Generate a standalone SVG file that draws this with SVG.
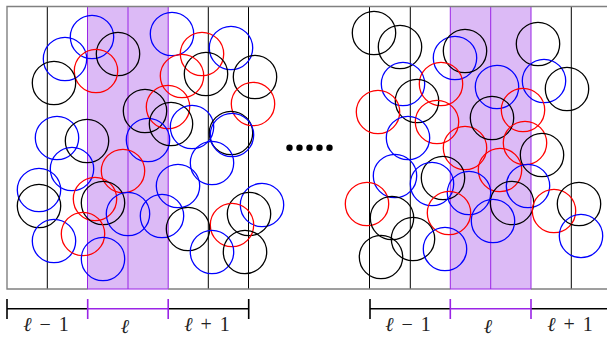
<svg xmlns="http://www.w3.org/2000/svg" width="607" height="337" viewBox="0 0 607 337">
<style>
.band{fill:#dcbaf6;stroke:#9a24e6;stroke-width:1}
.v{stroke:#000;stroke-width:1}
.vp{stroke:#9a24e6;stroke-width:1}
.frame{fill:none;stroke:#808080;stroke-width:1.4}
circle.k,circle.b,circle.r{fill:none;stroke-width:1.3}
.k{stroke:#000}
.b{stroke:#0000ff}
.r{stroke:#ff0000}
.br{stroke:#000;stroke-width:1.6;fill:none}
.bp{stroke:#9a24e6;stroke-width:1.6;fill:none}
.lab{font-family:"Liberation Serif","DejaVu Serif",serif;font-size:20px;fill:#222;text-anchor:middle;word-spacing:3px}
.dot{fill:#000}
</style>
<rect x="0" y="0" width="607" height="337" fill="#fff"/>
<g id="bands">
<rect class="band" x="87.5" y="6.5" width="80.7" height="282.5"/>
<rect class="band" x="450.3" y="6.5" width="80.7" height="282.5"/>
</g>
<g id="grid">
<line class="v" x1="47.3" y1="6.5" x2="47.3" y2="289"/>
<line class="vp" x1="128" y1="6.5" x2="128" y2="289"/>
<line class="v" x1="208.3" y1="6.5" x2="208.3" y2="289"/>
<line class="v" x1="248.5" y1="6.5" x2="248.5" y2="289"/>
<line class="v" x1="369.5" y1="6.5" x2="369.5" y2="289"/>
<line class="v" x1="410.3" y1="6.5" x2="410.3" y2="289"/>
<line class="vp" x1="490.7" y1="6.5" x2="490.7" y2="289"/>
<line class="v" x1="571.3" y1="6.5" x2="571.3" y2="289"/>
</g>
<g id="frame">
<path class="frame" d="M607 6.5 H7 V289 H87.5 M168.2 289 H450.3 M531 289 H607"/>
</g>
<g id="particles-left">
<circle class="b" cx="92" cy="37" r="21.7"/>
<circle class="b" cx="65" cy="59" r="21.7"/>
<circle class="k" cx="118" cy="54" r="21.7"/>
<circle class="r" cx="96" cy="71" r="21.7"/>
<circle class="k" cx="54" cy="83" r="21.7"/>
<circle class="k" cx="145" cy="111" r="21.7"/>
<circle class="r" cx="168" cy="107" r="21.7"/>
<circle class="b" cx="57" cy="138" r="21.7"/>
<circle class="k" cx="87" cy="141" r="21.7"/>
<circle class="b" cx="148" cy="140" r="21.7"/>
<circle class="b" cx="172" cy="34" r="21.7"/>
<circle class="r" cx="202" cy="54" r="21.7"/>
<circle class="b" cx="231" cy="48" r="21.7"/>
<circle class="k" cx="206" cy="74" r="21.7"/>
<circle class="r" cx="182" cy="76" r="21.7"/>
<circle class="k" cx="255" cy="77" r="21.7"/>
<circle class="r" cx="253" cy="104" r="21.7"/>
<circle class="k" cx="171" cy="124" r="21.7"/>
<circle class="b" cx="192" cy="127" r="21.7"/>
<circle class="k" cx="231" cy="133" r="21.7"/>
<circle class="b" cx="232" cy="135" r="21.7"/>
<circle class="b" cx="212" cy="163" r="21.7"/>
<circle class="b" cx="178" cy="186" r="21.7"/>
<circle class="b" cx="262" cy="205" r="21.7"/>
<circle class="k" cx="249" cy="214" r="21.7"/>
<circle class="r" cx="232" cy="225" r="21.7"/>
<circle class="b" cx="162" cy="216" r="21.7"/>
<circle class="k" cx="188" cy="229" r="21.7"/>
<circle class="b" cx="212" cy="252" r="21.7"/>
<circle class="k" cx="245" cy="252" r="21.7"/>
<circle class="b" cx="72" cy="169" r="21.7"/>
<circle class="r" cx="123" cy="171" r="21.7"/>
<circle class="b" cx="39" cy="190" r="21.7"/>
<circle class="k" cx="39" cy="206" r="21.7"/>
<circle class="r" cx="95" cy="199" r="21.7"/>
<circle class="k" cx="103" cy="203" r="21.7"/>
<circle class="b" cx="128" cy="214" r="21.7"/>
<circle class="b" cx="54" cy="241" r="21.7"/>
<circle class="r" cx="83" cy="234" r="21.7"/>
<circle class="b" cx="103" cy="259" r="21.7"/>
</g>
<g id="particles-right">
<circle class="k" cx="374" cy="33" r="21.7"/>
<circle class="k" cx="400" cy="47" r="21.7"/>
<circle class="b" cx="455" cy="58" r="21.7"/>
<circle class="k" cx="465" cy="51" r="21.7"/>
<circle class="b" cx="403" cy="84" r="21.7"/>
<circle class="r" cx="441" cy="84" r="21.7"/>
<circle class="k" cx="417" cy="101" r="21.7"/>
<circle class="r" cx="378" cy="112" r="21.7"/>
<circle class="r" cx="437" cy="122" r="21.7"/>
<circle class="b" cx="408" cy="138" r="21.7"/>
<circle class="r" cx="465" cy="148" r="21.7"/>
<circle class="k" cx="538" cy="44" r="21.7"/>
<circle class="b" cx="544" cy="81" r="21.7"/>
<circle class="k" cx="567" cy="89" r="21.7"/>
<circle class="b" cx="497" cy="87" r="21.7"/>
<circle class="r" cx="523" cy="110" r="21.7"/>
<circle class="k" cx="492" cy="118" r="21.7"/>
<circle class="r" cx="525" cy="143" r="21.7"/>
<circle class="k" cx="542" cy="155" r="21.7"/>
<circle class="r" cx="500" cy="170" r="21.7"/>
<circle class="b" cx="395" cy="176" r="21.7"/>
<circle class="k" cx="443" cy="178" r="21.7"/>
<circle class="b" cx="432" cy="184" r="21.7"/>
<circle class="b" cx="469" cy="193" r="21.7"/>
<circle class="b" cx="528" cy="186" r="21.7"/>
<circle class="k" cx="512" cy="203" r="21.7"/>
<circle class="r" cx="367" cy="204" r="21.7"/>
<circle class="r" cx="449" cy="213" r="21.7"/>
<circle class="k" cx="392" cy="218" r="21.7"/>
<circle class="b" cx="493" cy="221" r="21.7"/>
<circle class="r" cx="554" cy="211" r="21.7"/>
<circle class="k" cx="579" cy="204" r="21.7"/>
<circle class="b" cx="581" cy="236" r="21.7"/>
<circle class="k" cx="413" cy="239" r="21.7"/>
<circle class="b" cx="445" cy="249" r="21.7"/>
<circle class="k" cx="381" cy="257" r="21.7"/>
</g>
<g id="ellipsis">
<circle class="dot" cx="289.5" cy="147.7" r="3.2"/>
<circle class="dot" cx="299.5" cy="147.7" r="3.2"/>
<circle class="dot" cx="309.5" cy="147.7" r="3.2"/>
<circle class="dot" cx="319.5" cy="147.7" r="3.2"/>
<circle class="dot" cx="329.5" cy="147.7" r="3.2"/>
</g>
<g id="bracket-left">
<path class="br" d="M7 299 V319 M7 308.7 H87.7 M168.2 308.7 H248.7 M248.7 299 V319"/>
<path class="bp" d="M87.7 299 V319 M87.7 308.7 H168.2 M168.2 299 V319"/>
<text class="lab" x="46" y="331"><tspan font-style="italic">ℓ</tspan> − 1</text>
<text class="lab" x="125" y="333" font-style="italic">ℓ</text>
<text class="lab" x="207" y="331"><tspan font-style="italic">ℓ</tspan> + 1</text>
</g>
<g id="bracket-right">
<path class="br" d="M370 299 V319 M370 308.7 H450.3 M531 308.7 H607"/>
<path class="bp" d="M450.3 299 V319 M450.3 308.7 H531 M531 299 V319"/>
<text class="lab" x="408" y="331"><tspan font-style="italic">ℓ</tspan> − 1</text>
<text class="lab" x="488" y="333" font-style="italic">ℓ</text>
<text class="lab" x="570" y="331"><tspan font-style="italic">ℓ</tspan> + 1</text>
</g>
</svg>
